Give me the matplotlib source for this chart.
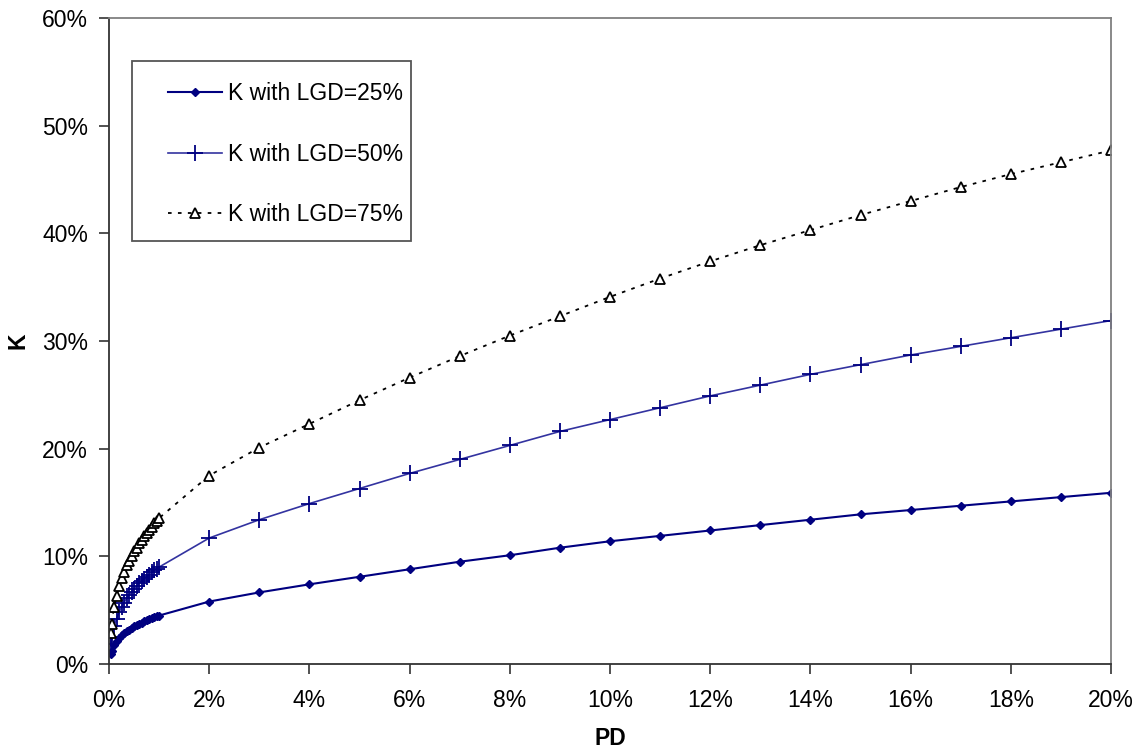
import matplotlib
matplotlib.use("Agg")
import matplotlib.pyplot as plt
from matplotlib.ticker import FuncFormatter
from matplotlib.patches import Rectangle

plt.rcParams['font.family'] = ['Liberation Sans', 'DejaVu Sans']

# PD values in percent
pd_pct = [0.03, 0.05, 0.10, 0.15, 0.20, 0.25, 0.30, 0.35, 0.40, 0.45, 0.50,
          0.55, 0.60, 0.65, 0.70, 0.75, 0.80, 0.85, 0.90, 0.95, 1.00,
          2, 3, 4, 5, 6, 7, 8, 9, 10, 11, 12, 13, 14, 15, 16, 17, 18, 19, 20]

# K values in percent
k_lgd25 = [0.95, 1.25, 1.75, 2.10, 2.40, 2.65, 2.85, 3.05, 3.20, 3.35, 3.50,
           3.60, 3.75, 3.85, 3.95, 4.05, 4.15, 4.25, 4.35, 4.45, 4.50,
           5.8, 6.65, 7.4, 8.1, 8.8, 9.5, 10.1, 10.8, 11.4, 11.9, 12.4, 12.9,
           13.4, 13.9, 14.3, 14.7, 15.1, 15.5, 15.9]
k_lgd50 = [1.9, 2.5, 3.5, 4.2, 4.8, 5.3, 5.7, 6.1, 6.4, 6.7, 7.0,
           7.2, 7.5, 7.7, 7.9, 8.1, 8.3, 8.5, 8.7, 8.85, 9.0,
           11.7, 13.4, 14.9, 16.3, 17.7, 19.0, 20.3, 21.6, 22.7, 23.8, 24.9, 25.9,
           26.9, 27.8, 28.7, 29.5, 30.3, 31.1, 31.9]
k_lgd75 = [2.85, 3.75, 5.25, 6.3, 7.2, 7.95, 8.55, 9.15, 9.6, 10.05, 10.5,
           10.8, 11.25, 11.55, 11.85, 12.15, 12.45, 12.75, 13.05, 13.3, 13.55,
           17.5, 20.1, 22.3, 24.5, 26.6, 28.6, 30.5, 32.3, 34.1, 35.8, 37.4, 38.9,
           40.3, 41.7, 43.0, 44.3, 45.5, 46.6, 47.7]

labels = ["K with LGD=25%", "K with LGD=50%", "K with LGD=75%"]
x_ticks = [0, 2, 4, 6, 8, 10, 12, 14, 16, 18, 20]
y_ticks = [0, 10, 20, 30, 40, 50, 60]

FS = 16.5

fig = plt.figure(figsize=(11.36, 7.5), dpi=100)
ax = fig.add_axes([109 / 1136, (750 - 664) / 750, 1002 / 1136, 646 / 750])

ax.plot(pd_pct, k_lgd25, color='#000080', lw=1.5, marker='D', ms=4.5,
        label=labels[0])
ax.plot(pd_pct, k_lgd50, color='#3333A0', lw=1.2, marker='+', ms=11, mew=1.3,
        mec='#000080', label=labels[1])
ax.plot(pd_pct, k_lgd75, color='black', lw=1.3, ls=(0, (2, 3.5)), marker='^',
        ms=7, mfc='white', mec='black', mew=1.3, label=labels[2])

ax.set_xlim(0, 20)
ax.set_ylim(0, 60)
ax.set_xticks(x_ticks)
ax.set_yticks(y_ticks)
fmt = FuncFormatter(lambda v, p: f"{v:.0f}%")
ax.xaxis.set_major_formatter(fmt)
ax.yaxis.set_major_formatter(fmt)
ax.tick_params(direction='out', length=7, width=1.2, labelsize=FS,
               colors='#333333', labelcolor='black')
ax.tick_params(axis='x', pad=11)
ax.tick_params(axis='y', pad=8)

for s in ['left', 'bottom']:
    ax.spines[s].set_color('#333333')
    ax.spines[s].set_linewidth(1.3)
for s in ['top', 'right']:
    ax.spines[s].set_color('#808080')
    ax.spines[s].set_linewidth(1.3)

ax.set_xlabel("PD", fontsize=FS, fontweight='bold', labelpad=11)
ax.set_ylabel("K", fontsize=FS, fontweight='bold', labelpad=9)

# legend frame
ax.add_patch(Rectangle((23 / 1002, (664 - 241) / 646), 279 / 1002, 180 / 646,
                       transform=ax.transAxes, facecolor='white',
                       edgecolor='#555555', lw=1.3, zorder=4))
leg = ax.legend(loc='upper left', bbox_to_anchor=((168 - 109) / 1002, (664 - 82) / 646),
                borderaxespad=0, borderpad=0, fontsize=FS, labelspacing=1.64,
                handlelength=2.36, handletextpad=0.26, frameon=False)
leg.set_zorder(5)

fig.savefig("out.png", dpi=100)
